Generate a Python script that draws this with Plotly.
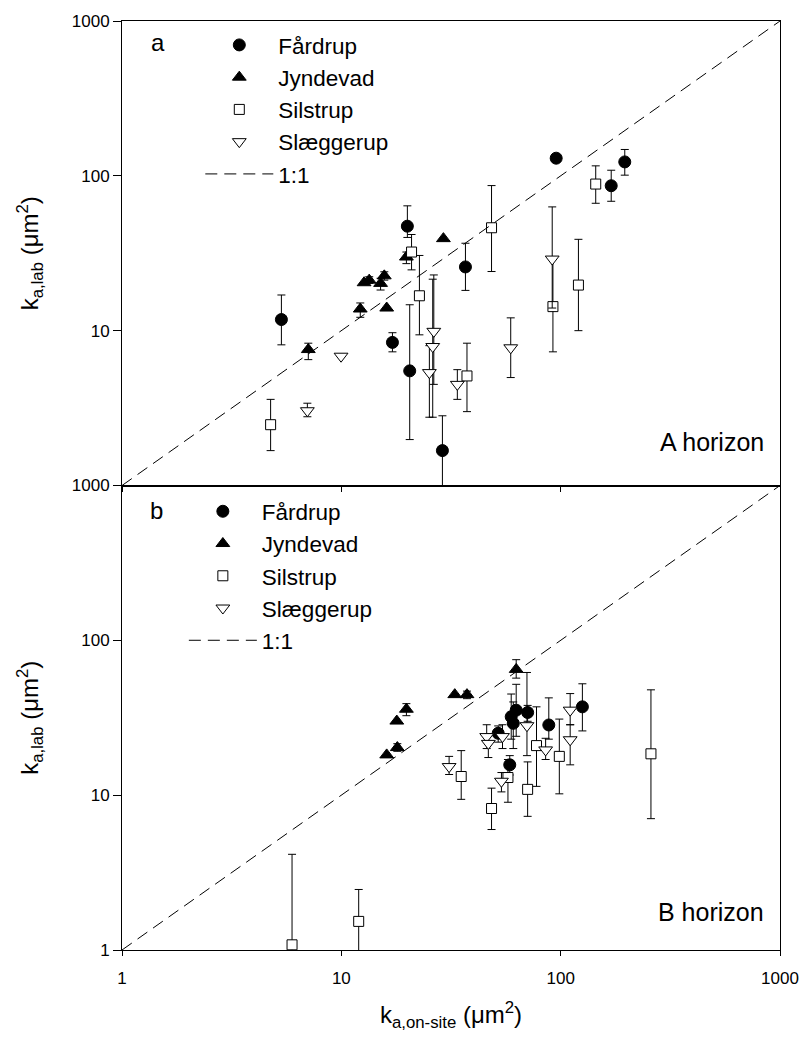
import numpy as np
import plotly.graph_objects as go

# ---------------- data ----------------
# Panel a (A horizon)
A_FAR_X = [5.33, 17.1, 20.0, 20.5, 28.9, 36.8, 95.4, 170, 196]
A_FAR_Y = [11.8, 8.4, 47.3, 5.5, 1.68, 25.8, 130, 86.3, 123]
A_FAR_HI = [17.0, 9.7, 64, 14.7, 2.82, 36.7, None, 108.7, 148]
A_FAR_LO = [8.1, 7.3, 40, 1.98, 0.5, 18.2, None, 68.5, 101]

A_JYN_X = [7.07, 12.2, 12.7, 13.4, 15.1, 15.7, 16.1, 19.8, 29.2]
A_JYN_Y = [7.55, 13.8, 20.4, 21.2, 20.2, 22.6, 14.0, 29.9, 39.3]
A_JYN_HI = [8.3, 15.1, None, 22.3, 21.8, 24.0, None, 32.2, None]
A_JYN_LO = [6.5, 12.2, None, 20.2, 18.3, 21.2, None, 27.1, None]

A_SIL_X = [4.76, 20.9, 22.7, 37.4, 48.4, 92.2, 120.5, 144.5]
A_SIL_Y = [2.47, 32.2, 16.8, 5.1, 46.2, 14.3, 19.7, 88.5]
A_SIL_HI = [3.6, 41.8, 30.6, 8.3, 86.5, 29, 38.9, 116]
A_SIL_LO = [1.68, 24.7, 9.4, 3.0, 24.1, 7.3, 10.0, 66.5]

A_SLA_X = [7.0, 9.97, 25.2, 26.1, 26.4, 33.8, 59.2, 91.5]
A_SLA_Y = [3.04, 6.84, 5.36, 7.9, 9.9, 4.5, 7.75, 29]
A_SLA_HI = [3.4, None, 8.0, 21.5, 22.9, 5.6, 12.1, 63]
A_SLA_LO = [2.78, None, 2.76, 2.76, 4.5, 3.6, 4.98, 14]

# Panel b (B horizon)
B_FAR_X = [51.9, 58.6, 59.5, 60.8, 62.7, 70.7, 88.3, 125.6]
B_FAR_Y = [25.1, 15.7, 32.1, 29.1, 35.4, 34.2, 28.4, 37.2]
B_FAR_HI = [28, 18, 45, 40, 52, 38, 42.5, 52.4]
B_FAR_LO = [22, 13.5, 23, 20, 24, 30, 23, 26]

B_JYN_X = [16.1, 18.0, 17.9, 19.8, 32.9, 37.4, 62.7]
B_JYN_Y = [18.2, 20.3, 30.1, 35.9, 44.6, 44.6, 64.9]
B_JYN_HI = [None, 21.5, None, 39.0, None, 47, 75]
B_JYN_LO = [None, 19.2, None, 32.6, None, 42, 57]

B_SIL_X = [5.96, 12.0, 35.2, 48.4, 57.5, 70.7, 77.6, 98.6, 258]
B_SIL_Y = [1.08, 1.53, 13.2, 8.2, 13.0, 10.9, 20.9, 17.8, 18.5]
B_SIL_HI = [4.15, 2.46, 19.4, 11.1, 17, 16.4, 37.2, 31, 47.9]
B_SIL_LO = [0.5, 0.5, 9.4, 6.0, 9, 7.3, 11.4, 10.2, 7.05]

B_SLA_X = [31.0, 46.0, 46.8, 54.3, 53.7, 70.2, 85.4, 110.5, 110.5]
B_SLA_Y = [15.3, 23.9, 21.6, 23.9, 12.3, 28.1, 19.6, 35.4, 22.8]
B_SLA_HI = [17.8, 28.5, 25, 28.5, 14, 62, 23.3, 45.3, 28.5]
B_SLA_LO = [13.6, 20, 17.5, 20, 10.5, 18, 17.0, 28.5, 15.7]

ONE_TO_ONE = [1, 1000]
SITES = ["Fårdrup", "Jyndevad", "Silstrup", "Slæggerup"]
TICKS = [1, 10, 100, 1000]
TICK_TEXT = ["1", "10", "100", "1000"]

FONT = "Liberation Sans, Arial, sans-serif"

STYLES = {
    "Fårdrup": dict(symbol="circle", size=12, color="black"),
    "Jyndevad": dict(symbol="triangle-up", size=12, color="black"),
    "Silstrup": dict(symbol="square", size=10, color="white"),
    "Slæggerup": dict(symbol="triangle-down", size=12, color="white"),
}


def errs(y, hi, lo):
    y = np.asarray(y, dtype=float)
    hi = np.array([np.nan if v is None else v for v in hi], dtype=float)
    lo = np.array([np.nan if v is None else v for v in lo], dtype=float)
    return hi - y, y - lo


fig = go.Figure()

panels = [
    ("x", "y", "legend", [
        (A_FAR_X, A_FAR_Y, A_FAR_HI, A_FAR_LO),
        (A_JYN_X, A_JYN_Y, A_JYN_HI, A_JYN_LO),
        (A_SIL_X, A_SIL_Y, A_SIL_HI, A_SIL_LO),
        (A_SLA_X, A_SLA_Y, A_SLA_HI, A_SLA_LO),
    ]),
    ("x2", "y2", "legend2", [
        (B_FAR_X, B_FAR_Y, B_FAR_HI, B_FAR_LO),
        (B_JYN_X, B_JYN_Y, B_JYN_HI, B_JYN_LO),
        (B_SIL_X, B_SIL_Y, B_SIL_HI, B_SIL_LO),
        (B_SLA_X, B_SLA_Y, B_SLA_HI, B_SLA_LO),
    ]),
]

for xa, ya, leg, series in panels:
    for name, (sx, sy, shi, slo) in zip(SITES, series):
        plus, minus = errs(sy, shi, slo)
        st = STYLES[name]
        fig.add_trace(go.Scatter(
            x=sx, y=sy, mode="markers", name=name, xaxis=xa, yaxis=ya, legend=leg,
            marker=dict(symbol=st["symbol"], size=st["size"], color=st["color"],
                        line=dict(color="black", width=1)),
            error_y=dict(type="data", array=plus, arrayminus=minus, symmetric=False,
                         color="black", thickness=1, width=4),
        ))
    fig.add_trace(go.Scatter(
        x=ONE_TO_ONE, y=ONE_TO_ONE, mode="lines", name="1:1", xaxis=xa, yaxis=ya,
        legend=leg, line=dict(color="black", width=1, dash="12px,7px"),
    ))

axis_common = dict(
    type="log", range=[0, 3], showline=True, linecolor="black", linewidth=1,
    mirror=True, ticks="outside", tickcolor="black", showgrid=False, zeroline=False,
    tickfont=dict(family=FONT, size=17, color="black"),
)

LEG_FONT = dict(family=FONT, size=22.5, color="black")

fig.update_layout(
    width=811, height=1040,
    margin=dict(l=122, r=19, t=14, b=90),
    paper_bgcolor="white", plot_bgcolor="white",
    font=dict(family=FONT, color="black"),
    xaxis=dict(axis_common, domain=[0, 1], anchor="y", tickvals=TICKS,
               showticklabels=False, ticklen=5),
    yaxis=dict(axis_common, domain=[0.5, 1], anchor="x", tickvals=TICKS[1:],
               ticktext=TICK_TEXT[1:], ticklen=8,
               title=dict(text="k<sub>a,lab</sub> (μm<sup>2</sup>)", standoff=26,
                          font=dict(family=FONT, size=24))),
    xaxis2=dict(axis_common, domain=[0, 1], anchor="y2", tickvals=TICKS,
                ticktext=TICK_TEXT, ticklen=5, ticklabelstandoff=8,
                title=dict(text="k<sub>a,on-site</sub> (μm<sup>2</sup>)", standoff=18,
                           font=dict(family=FONT, size=24))),
    yaxis2=dict(axis_common, domain=[0, 0.5], anchor="x2", tickvals=TICKS,
                ticktext=TICK_TEXT, ticklen=8,
                title=dict(text="k<sub>a,lab</sub> (μm<sup>2</sup>)", standoff=26,
                           font=dict(family=FONT, size=24))),
    legend=dict(x=0.119, y=0.997, xanchor="left", yanchor="top", itemwidth=68,
                bgcolor="rgba(0,0,0,0)", font=LEG_FONT, tracegroupgap=0),
    legend2=dict(x=0.094, y=0.495, xanchor="left", yanchor="top", itemwidth=68,
                 bgcolor="rgba(0,0,0,0)", font=LEG_FONT, tracegroupgap=0),
    showlegend=True,
)

ann_font = dict(family=FONT, size=24, color="black")
hz_font = dict(family=FONT, size=25, color="black")
fig.add_annotation(text="a", xref="x domain", yref="y domain", x=0.055, y=0.953,
                   showarrow=False, xanchor="center", yanchor="middle", font=ann_font)
fig.add_annotation(text="b", xref="x2 domain", yref="y2 domain", x=0.052, y=0.947,
                   showarrow=False, xanchor="center", yanchor="middle", font=ann_font)
fig.add_annotation(text="A horizon", xref="x domain", yref="y domain", x=0.978, y=0.094,
                   showarrow=False, xanchor="right", yanchor="middle", font=hz_font)
fig.add_annotation(text="B horizon", xref="x2 domain", yref="y2 domain", x=0.978, y=0.081,
                   showarrow=False, xanchor="right", yanchor="middle", font=hz_font)

fig.write_html(
    "out.html",
    config={"displayModeBar": False},
    post_script="document.body.style.margin='0';document.body.style.overflow='hidden';",
)
